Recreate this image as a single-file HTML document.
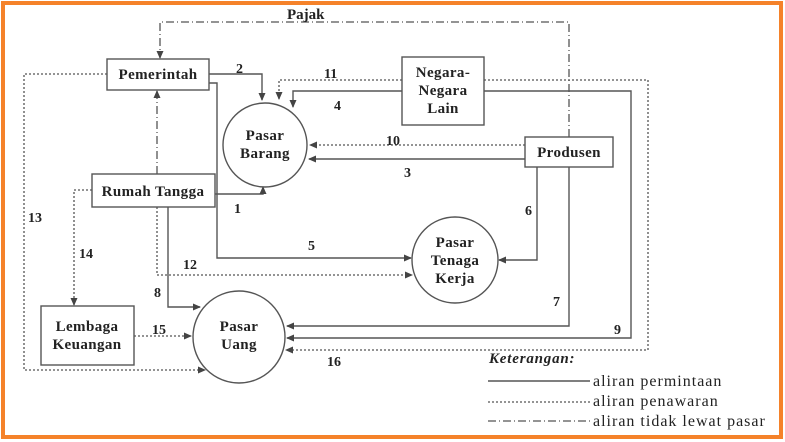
<!DOCTYPE html>
<html><head><meta charset="utf-8"><style>
body{margin:0;background:#fff}
svg{display:block}
text{font-family:"Liberation Serif",serif;font-weight:bold;font-size:15px;letter-spacing:0.4px;fill:#222}
.n text{font-size:14px;letter-spacing:0}
.lg text{font-weight:normal;font-size:16px;letter-spacing:1px}
</style></head><body>
<svg width="785" height="442" viewBox="0 0 785 442">
<defs>
<marker id="a" markerWidth="8" markerHeight="8" refX="7" refY="4" orient="auto" markerUnits="userSpaceOnUse"><path d="M0,0.5 L8,4 L0,7.5z" fill="#444"/></marker>
</defs>
<rect x="3" y="3" width="778" height="434" fill="none" stroke="#f5822a" stroke-width="4"/>
<g fill="none" stroke="#555" stroke-width="1.4">
<polyline points="209,74 262,74 262,100" marker-end="url(#a)"/>
<polyline points="402,91 293,91 293,107" marker-end="url(#a)"/>
<polyline points="484,91 631,91 631,338 287,338" marker-end="url(#a)"/>
<polyline points="525,159 309,159" marker-end="url(#a)"/>
<polyline points="537,167 537,260 499,260" marker-end="url(#a)"/>
<polyline points="569,167 569,326 287,326" marker-end="url(#a)"/>
<polyline points="209,83 217,83 217,258 411,258" marker-end="url(#a)"/>
<polyline points="215,194 263,194 263,187" marker-end="url(#a)"/>
<polyline points="168,207 168,307 200,307" marker-end="url(#a)"/>
<line x1="488" y1="381" x2="590" y2="381"/>
</g>
<g fill="none" stroke="#555" stroke-width="1.3" stroke-dasharray="2,2">
<polyline points="402,80 279,80 279,99" marker-end="url(#a)"/>
<polyline points="484,80 648,80 648,350 286,350" marker-end="url(#a)"/>
<polyline points="525,145 310,145" marker-end="url(#a)"/>
<polyline points="157,207 157,275 412,275" marker-end="url(#a)"/>
<polyline points="92,190 74,190 74,305" marker-end="url(#a)"/>
<polyline points="107,74 24,74 24,370 205,370" marker-end="url(#a)"/>
<polyline points="134,336 191,336" marker-end="url(#a)"/>
<line x1="488" y1="402" x2="590" y2="402"/>
</g>
<g fill="none" stroke="#555" stroke-width="1.3" stroke-dasharray="8,3,1,3">
<polyline points="569,137 569,22 160,22 160,58" marker-end="url(#a)"/>
<polyline points="157,174 157,91" marker-end="url(#a)"/>
<line x1="488" y1="421" x2="590" y2="421"/>
</g>
<g fill="#fff" stroke="#555" stroke-width="1.4">
<rect x="107" y="59" width="102" height="31"/>
<rect x="92" y="174" width="123" height="33"/>
<rect x="402" y="57" width="82" height="68"/>
<rect x="525" y="137" width="88" height="30"/>
<rect x="41" y="306" width="93" height="59"/>
<circle cx="265" cy="145" r="42"/>
<circle cx="455" cy="260" r="43"/>
<circle cx="239" cy="337" r="46"/>
</g>
<g text-anchor="middle">
<text x="158" y="79">Pemerintah</text>
<text x="153" y="196">Rumah Tangga</text>
<text x="443" y="77">Negara-</text><text x="443" y="95">Negara</text><text x="443" y="113">Lain</text>
<text x="569" y="157">Produsen</text>
<text x="87" y="331">Lembaga</text><text x="87" y="349">Keuangan</text>
<text x="265" y="140">Pasar</text><text x="265" y="158">Barang</text>
<text x="455" y="247">Pasar</text><text x="455" y="265">Tenaga</text><text x="455" y="283">Kerja</text>
<text x="239" y="331">Pasar</text><text x="239" y="349">Uang</text>
</g>
<g class="n">
<text x="287" y="19" style="font-size:15px">Pajak</text>
<text x="236" y="73">2</text>
<text x="324" y="78">11</text>
<text x="334" y="110">4</text>
<text x="386" y="145">10</text>
<text x="404" y="177">3</text>
<text x="234" y="213">1</text>
<text x="525" y="215">6</text>
<text x="308" y="250">5</text>
<text x="183" y="269">12</text>
<text x="28" y="222">13</text>
<text x="79" y="258">14</text>
<text x="154" y="297">8</text>
<text x="152" y="334">15</text>
<text x="553" y="306">7</text>
<text x="614" y="334">9</text>
<text x="327" y="366">16</text>
</g>
<text x="489" y="363" style="font-style:italic;font-size:15px;letter-spacing:0.8px">Keterangan:</text>
<g class="lg">
<text x="593" y="386">aliran permintaan</text>
<text x="593" y="406">aliran penawaran</text>
<text x="593" y="426">aliran tidak lewat pasar</text>
</g>
</svg>
</body></html>
